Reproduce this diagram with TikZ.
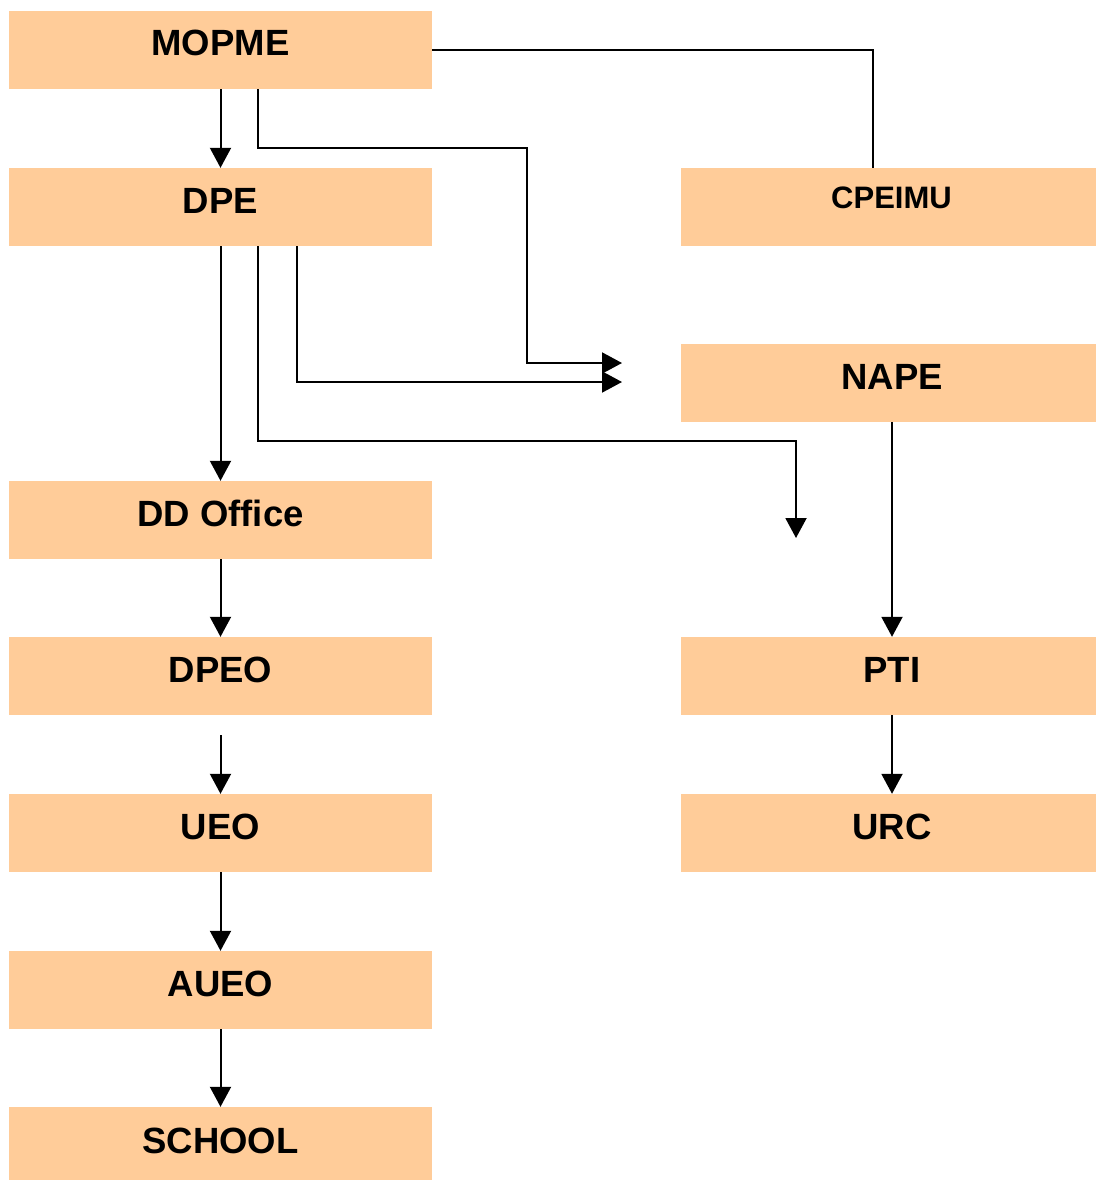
\documentclass[tikz,border=0pt]{standalone}
\usepackage{fontspec}
\setmainfont{Liberation Sans}
\usetikzlibrary{arrows.meta}
\definecolor{boxfill}{HTML}{FFCC99}
\begin{document}
\begin{tikzpicture}[x=1pt,y=-1pt,
  box/.style={fill=boxfill, draw=none, minimum width=423pt, minimum height=78pt, inner sep=0pt,
    font=\fontsize{36.5}{40}\selectfont\bfseries, text height=26pt, text depth=14pt},
  rbox/.style={box, minimum width=415pt},
  link/.style={line width=2pt},
  arr/.style={link, -{Triangle[length=20pt,width=21pt]}}]
\useasboundingbox (0,0) rectangle (1096,1180);
% left column
\node[box] (mopme) at (220.5,50) {MOPME};
\node[box] (dpe) at (220.5,207) {DPE};
\node[box] (dd) at (220.5,520) {DD Office};
\node[box] (dpeo) at (220.5,676) {DPEO};
\node[box] (ueo) at (220.5,833) {UEO};
\node[box] (aueo) at (220.5,990) {AUEO};
\node[box, minimum height=73pt, text depth=7pt] (school) at (220.5,1143.5) {SCHOOL};
% right column
\node[rbox, font=\fontsize{31}{36}\selectfont\bfseries, text height=22pt, text depth=20pt] (cpeimu) at (888.5,207) {\hspace*{6pt}CPEIMU};
\node[rbox] (nape) at (888.5,383) {\hspace*{7pt}NAPE};
\node[rbox] (pti) at (888.5,676) {\hspace*{7pt}PTI};
\node[rbox] (urc) at (888.5,833) {\hspace*{7pt}URC};
% free ends
\coordinate (napeA) at (622,363);
\coordinate (napeB) at (622,382);
\coordinate (ptiend) at (796,538);
\coordinate (ueoin) at (220.5,735);
% connectors
\draw[arr] (mopme.south) -- (dpe.north);
\draw[arr] ([xshift=37.5pt]mopme.south) |- (527,148) |- (napeA);
\draw[link] (mopme.east) -| ([xshift=-15.5pt]cpeimu.north);
\draw[arr] (dpe.south) -- (dd.north);
\draw[arr] ([xshift=76.5pt]dpe.south) |- (napeB);
\draw[arr] ([xshift=37.5pt]dpe.south) -- ++(0,195) -| (ptiend);
\draw[arr] (dd.south) -- (dpeo.north);
\draw[arr] (ueoin) -- (ueo.north);
\draw[arr] (ueo.south) -- (aueo.north);
\draw[arr] (aueo.south) -- (school.north);
\draw[arr] ([xshift=3.5pt]nape.south) -- ([xshift=3.5pt]pti.north);
\draw[arr] ([xshift=3.5pt]pti.south) -- ([xshift=3.5pt]urc.north);
\end{tikzpicture}
\end{document}
